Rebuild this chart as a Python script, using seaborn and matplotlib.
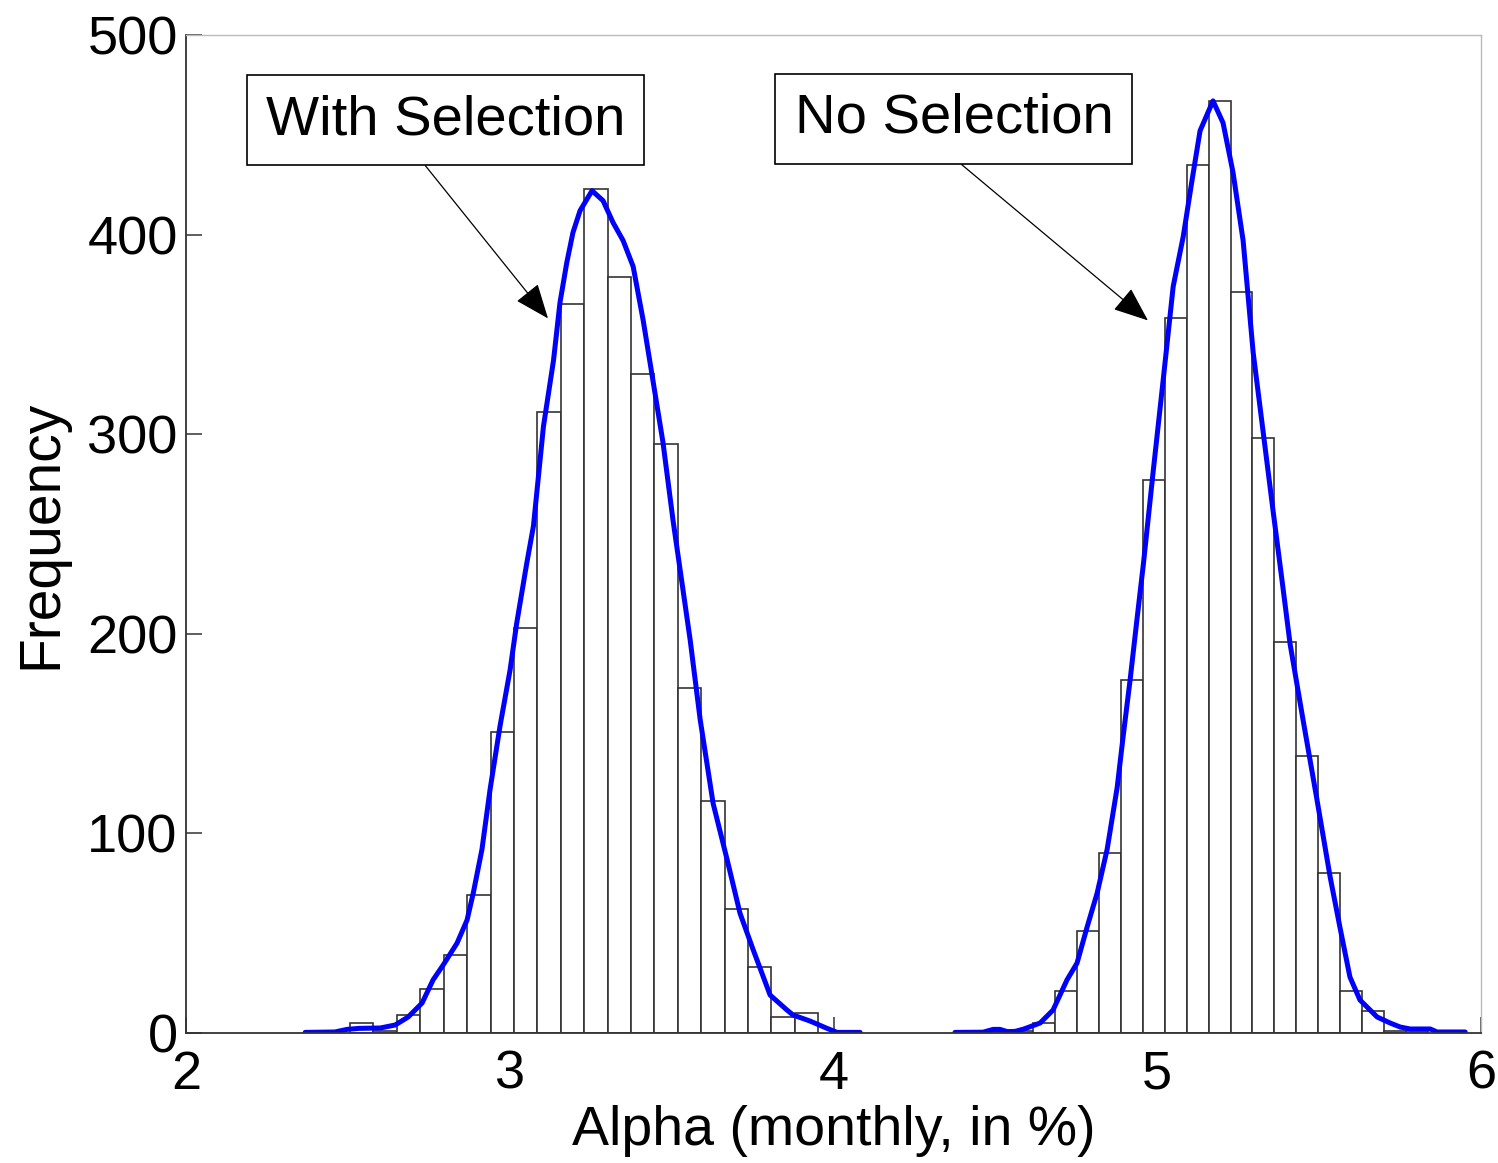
import numpy as np
import pandas as pd
import matplotlib
matplotlib.use("Agg")
import matplotlib.pyplot as plt
import seaborn as sns

# ---------------- data ----------------
with_bin_start = 2.5066
with_bin_width = 0.0723
with_counts = [5, 1, 9, 22, 39, 69, 151, 203, 311, 365, 423, 379, 330, 295,
               173, 116, 62, 33, 8, 10]

no_bin_start = 4.4806
no_bin_width = 0.06778
no_counts = [1, 1, 5, 21, 51, 90, 177, 277, 358, 435, 467, 371, 298, 196,
             139, 80, 21, 11, 1, 1]

with_curve_x = [2.368, 2.460, 2.497, 2.534, 2.600, 2.646, 2.686, 2.729, 2.763,
                2.794, 2.837, 2.868, 2.887, 2.914, 2.939, 2.970, 3.001, 3.021,
                3.052, 3.073, 3.104, 3.135, 3.155, 3.176, 3.195, 3.217, 3.254,
                3.288, 3.319, 3.350, 3.381, 3.412, 3.442, 3.473, 3.504, 3.557,
                3.588, 3.628, 3.671, 3.711, 3.751, 3.804, 3.856, 3.875, 3.927,
                3.980, 4.011, 4.082]
with_curve_y = [0.3, 0.5, 1.8, 2.3, 2.5, 4, 8, 15, 26.6,
                34, 45, 56.6, 70, 92, 122, 154, 182, 205,
                235, 254, 304, 337, 366, 386, 401, 412, 422,
                417, 406, 397, 384, 357, 327, 296, 257, 197,
                157, 115, 87, 60, 42, 19, 11.5, 9, 6,
                2.3, 0.3, 0.3]

no_curve_x = [4.375, 4.462, 4.493, 4.514, 4.536, 4.561, 4.588, 4.638, 4.678,
              4.721, 4.752, 4.783, 4.814, 4.845, 4.876, 4.894, 4.916, 4.937,
              4.957, 4.987, 5.018, 5.049, 5.080, 5.107, 5.132, 5.172, 5.203,
              5.234, 5.265, 5.296, 5.327, 5.358, 5.385, 5.410, 5.450, 5.493,
              5.534, 5.564, 5.595, 5.626, 5.679, 5.719, 5.750, 5.781, 5.843,
              5.864, 5.951]
no_curve_y = [0.3, 0.4, 1.8, 1.8, 0.7, 0.8, 2, 5, 11.5,
              26.6, 35, 53, 70, 92, 123, 148, 177, 207,
              235, 281, 327, 374, 399, 427, 452, 467, 456,
              431, 397, 341, 301, 261, 227, 195, 157, 117,
              78, 53, 28, 16.5, 8, 5, 3, 2, 2,
              0.5, 0.5]

x_ticks = [2, 3, 4, 5, 6]
y_ticks = [0, 100, 200, 300, 400, 500]
x_label = "Alpha (monthly, in %)"
y_label = "Frequency"
label_with = "With Selection"
label_no = "No Selection"

# ---------------- style ----------------
sns.set_theme(style="white")
plt.rcParams['font.family'] = ['Liberation Sans', 'DejaVu Sans']
plt.rcParams['text.color'] = 'black'
plt.rcParams['axes.labelcolor'] = 'black'

fig = plt.figure(figsize=(14.98, 11.63), dpi=100)
ax = fig.add_axes([0.1242, 0.1118, 0.8645, 0.8581])

# histograms
for start, width, counts in [(with_bin_start, with_bin_width, with_counts),
                             (no_bin_start, no_bin_width, no_counts)]:
    edges = [float(e) for e in start + width * np.arange(len(counts) + 1)]
    df = pd.DataFrame({
        "center": [e + width / 2 for e in edges[:-1]],
        "count": [float(c) for c in counts],
    })
    sns.histplot(data=df, x="center", weights="count", bins=edges, ax=ax,
                 stat='count', element='bars', fill=True, facecolor='white',
                 edgecolor='#333333', linewidth=1.2, alpha=1)

# smoothed curves
sns.lineplot(x=with_curve_x, y=with_curve_y, ax=ax, color='#0000ff',
             linewidth=3.6, sort=False)
sns.lineplot(x=no_curve_x, y=no_curve_y, ax=ax, color='#0000ff',
             linewidth=3.6, sort=False)

ax.set_xlim(2, 6)
ax.set_ylim(0, 500)
ax.set_xticks(x_ticks)
ax.set_yticks(y_ticks)
ax.set_xticklabels([str(t) for t in x_ticks])
ax.set_yticklabels([str(t) for t in y_ticks])
ax.tick_params(axis='both', which='major', direction='in', length=11.5,
               width=1.1, color='#333333', labelcolor='black', labelsize=39,
               bottom=True, left=True, top=False, right=False)
ax.tick_params(axis='x', pad=12)
ax.tick_params(axis='y', pad=6)
ax.set_xlabel(x_label, fontsize=40, labelpad=4, color='black')
ax.set_ylabel(y_label, fontsize=41, labelpad=14, color='black')

for side in ['left', 'bottom']:
    ax.spines[side].set_color('#333333')
    ax.spines[side].set_linewidth(1.3)
for side in ['top', 'right']:
    ax.spines[side].set_color('#bbbbbb')
    ax.spines[side].set_linewidth(1.0)

arrow_kw = dict(arrowstyle='-|>,head_length=0.55,head_width=0.22',
                color='black', lw=0.9, shrinkA=0, shrinkB=0,
                mutation_scale=40)
bbox_kw = dict(boxstyle='square,pad=0.34', fc='white', ec='black', lw=1.2)

ax.annotate(label_with, xy=(3.118, 358), xytext=(2.8015, 457.4),
            textcoords='data', ha='center', va='center', fontsize=40.5,
            color='black', bbox=bbox_kw,
            arrowprops=dict(relpos=(0.40, 0), **arrow_kw))
ax.annotate(label_no, xy=(4.971, 357), xytext=(4.372, 458),
            textcoords='data', ha='center', va='center', fontsize=40.5,
            color='black', bbox=bbox_kw,
            arrowprops=dict(relpos=(0.45, 0), **arrow_kw))

fig.savefig('out.png', dpi=100)
